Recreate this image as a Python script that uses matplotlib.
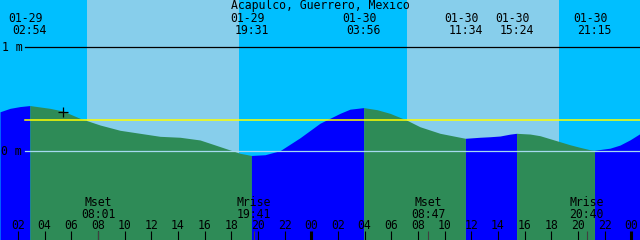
import matplotlib; matplotlib.use("Agg")
import matplotlib.pyplot as plt
from matplotlib.transforms import offset_copy
import numpy as np

NIGHT = "#00BFFF"; DAY = "#87CEEB"; FLOOD = "#0000FF"; EBB = "#2E8B57"
MSL = "#FFFF00"; DATUM = "#A6DAF0"; INK = "#000000"; MOONTICK = "#404040"
FONT = "DejaVu Sans Mono"; FS = 8.3

station = "Acapulco, Guerrero, Mexico"

# high / low tide events (labelled along the top)
event_day = [29, 29, 30, 30, 30, 30]
event_time = ["02:54", "19:31", "03:56", "11:34", "15:24", "21:15"]
event_m = [0.44, -0.04, 0.42, 0.125, 0.173, 0.01]

# water level: hours since 01-29 00:00, metres
tide_hours = [0.66, 1.41, 2.16, 4.41, 5.39, 6.66, 8.16, 9.66, 11.16, 12.66, 14.16,
              15.66, 16.79, 17.91, 18.66, 20.54, 21.66, 23.16, 24.66, 26.16, 26.91,
              28.94, 29.91, 31.19, 32.16, 33.66, 35.16, 36.66, 37.41, 38.16, 38.91,
              40.41, 41.16, 42.66, 43.41, 44.16, 44.91, 46.41, 47.16, 47.91, 48.66]
tide_m = [0.38, 0.413, 0.43, 0.413, 0.387, 0.317, 0.253, 0.202, 0.173, 0.144, 0.135,
          0.109, 0.061, 0.013, -0.019, -0.033, 0.006, 0.13, 0.27, 0.365, 0.405,
          0.40, 0.365, 0.298, 0.236, 0.173, 0.135, 0.135, 0.14, 0.147, 0.165,
          0.166, 0.15, 0.092, 0.063, 0.038, 0.015, 0.03, 0.06, 0.11, 0.17]

# sun: daylight spans
sun_day = [29, 30]
sunrise = ["07:11", "07:11"]
sunset = ["18:35", "18:35"]

# moon events (labelled along the bottom)
moon_day = [29, 29, 30, 30]
moon_kind = ["Mset", "Mrise", "Mset", "Mrise"]
moon_time = ["08:01", "19:41", "08:47", "20:40"]

msl_m = 0.298
now_hours, now_m = 5.39, 0.375


def hrs(day, hhmm):
    h, m = map(int, hhmm.split(":"))
    return (day - 29) * 24 + h + m / 60


T0, T1 = 0.66, 48.66
YTOP, YBOT = 1.455, -0.853

fig = plt.figure(figsize=(6.4, 2.4), dpi=100)
ax = fig.add_axes([0, 0, 1, 1])
ax.set_xlim(T0, T1); ax.set_ylim(YBOT, YTOP)
ax.set_facecolor(NIGHT)
for s in ax.spines.values():
    s.set_visible(False)
ax.yaxis.set_visible(False)

for d, a, b in zip(sun_day, sunrise, sunset):
    ax.axvspan(hrs(d, a), hrs(d, b), color=DAY, lw=0, zorder=0)

ev_h = [hrs(d, t) for d, t in zip(event_day, event_time)]
t = np.array(tide_hours + ev_h); h = np.array(tide_m + event_m)
o = np.argsort(t); t, h = t[o], h[o]

# flood (rising) in blue, ebb (falling) in green, split at each high/low
bounds = [T0] + ev_h + [T1]
for a, b in zip(bounds[:-1], bounds[1:]):
    m = (t >= a - 1e-6) & (t <= b + 1e-6)
    col = FLOOD if h[m][-1] > h[m][0] else EBB
    ax.fill_between(t[m], h[m], YBOT, color=col, lw=0, zorder=1)

xs = 25 / 640
ax.axhline(1.0, xmin=xs, color=INK, lw=0.9, zorder=2)
ax.axhline(msl_m, xmin=xs, color=MSL, lw=1.1, zorder=2)
ax.axhline(0.0, xmin=xs, color=DATUM, lw=0.9, zorder=2)
ax.plot([now_hours], [now_m], marker="+", ms=7, mew=0.9, color=INK, zorder=3)

tx = ax.get_xaxis_transform()
def yf(px):
    return 1 - px / 240

txt = dict(family=FONT, fontsize=FS, color=INK, zorder=4)
fig.text(0.5, yf(9.3), station, ha="center", va="baseline", **txt)
ax.text(T0, 1.0, "1 m", transform=offset_copy(ax.transData, fig=fig, x=2, y=-4, units="dots"),
        ha="left", va="baseline", **txt)
ax.text(T0, 0.0, "0 m", transform=offset_copy(ax.transData, fig=fig, x=1.5, y=-4, units="dots"),
        ha="left", va="baseline", **txt)

tx_date = offset_copy(tx, fig=fig, x=-4, y=0, units="dots")
for d, tm, x in zip(event_day, event_time, ev_h):
    ax.text(x, yf(21.7), f"01-{d}", transform=tx_date, ha="center", va="baseline", **txt)
    ax.text(x, yf(34.3), tm, transform=tx, ha="center", va="baseline", **txt)

moon_h = [hrs(d, tm) for d, tm in zip(moon_day, moon_time)]
for k, tm, x in zip(moon_kind, moon_time, moon_h):
    ax.text(x, yf(205.6), k, transform=tx, ha="center", va="baseline", **txt)
    ax.text(x, yf(217.6), tm, transform=tx, ha="center", va="baseline", **txt)
ax.vlines(moon_h, 0, 9 / 240, transform=tx, color=MOONTICK, lw=0.8, zorder=3)

ticks = np.arange(2, 49, 2)
ax.set_xticks(ticks)
ax.set_xticklabels([f"{int(v) % 24:02d}" for v in ticks])
ax.tick_params(axis="x", direction="in", length=6.5, width=0.8, pad=-7.7,
               labelsize=FS, colors=INK, zorder=3)
for lbl in ax.get_xticklabels():
    lbl.set_family(FONT); lbl.set_va("baseline")
for tk, v in zip(ax.xaxis.get_major_ticks(), ticks):
    if v % 24 == 0:
        tk.tick1line.set_markeredgewidth(2.2)

fig.savefig("out.png", dpi=100)
